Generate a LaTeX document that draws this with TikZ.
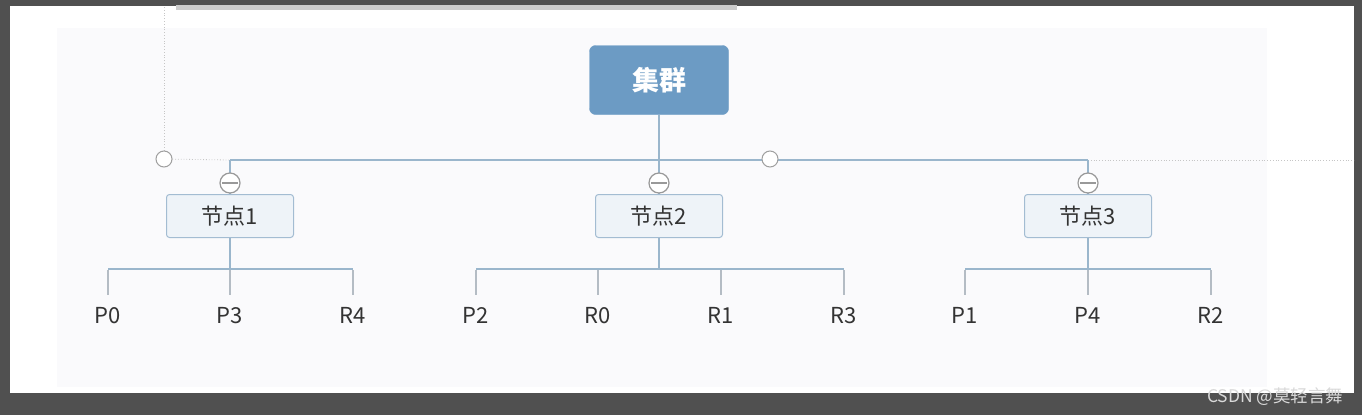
\documentclass[tikz,border=0pt]{standalone}
\usepackage{fontspec}
\setmainfont{Noto Sans CJK SC}
\usetikzlibrary{positioning}

\definecolor{framegray}{HTML}{505050}
\definecolor{panelbg}{HTML}{FAFAFC}
\definecolor{rootblue}{HTML}{6C9BC4}
\definecolor{boxfill}{HTML}{EEF3F8}
\definecolor{boxline}{HTML}{A3BCD2}
\definecolor{linkblue}{HTML}{9AB6CC}
\definecolor{dropgray}{HTML}{B4BCC4}
\definecolor{inkgray}{HTML}{333333}

\begin{document}
\begin{tikzpicture}[x=1pt, y=-1pt,
    root/.style={draw=rootblue, fill=rootblue, rounded corners=6pt, minimum width=139pt, minimum height=69pt, text=white, font=\fontsize{27}{30}\selectfont\bfseries},
    member/.style={draw=boxline, fill=boxfill, rounded corners=3pt, line width=1pt, minimum width=127pt, minimum height=43pt, text=inkgray, font=\fontsize{22}{24}\selectfont},
    leaf/.style={anchor=base, text=inkgray, font=\fontsize{22}{24}\selectfont},
    link/.style={draw=linkblue, line width=1.3pt},
    drop/.style={draw=dropgray, line width=1.3pt},
    guide/.style={draw=gray!45, dotted, line width=0.8pt},
    fold/.style={circle, draw=gray!80, fill=white, line width=1.2pt, minimum size=20pt, inner sep=0pt,
        path picture={\draw[gray!80, line width=1.2pt] ([xshift=2pt]path picture bounding box.west) -- ([xshift=-2pt]path picture bounding box.east);}},
    handle/.style={circle, draw=gray!75, fill=white, line width=1pt, minimum size=16pt, inner sep=0pt}
]
\useasboundingbox (0,0) rectangle (1362,415);

% screenshot frame and canvas
\fill[framegray] (0,0) rectangle (1362,415);
\fill[white] (10,6) rectangle (1354,393);
\fill[gray!40] (176,5) rectangle (737,10);
\fill[panelbg] (57,28) rectangle (1267,387);

% root and members
\node[root] (root) at (659,80) {集群};
\node[member] (n1) at (230,216) {节点1};
\node[member] (n2) at (659,216) {节点2};
\node[member] (n3) at (1088,216) {节点3};

% partitions and replicas
\foreach \name/\x/\lab in {p0/108/P0, p3/230/P3, r4/353/R4,
                           p2/476/P2, r0/598/R0, r1/721/R1, r3/844/R3,
                           p1/965/P1, p4/1088/P4, r2/1211/R2}
    \node[leaf] (\name) at (\x,323) {\lab};

% guides
\coordinate (h1) at (164,159);
\coordinate (h2) at (770,159);
\draw[guide] (h1) -- (164,6);
\draw[guide] (h1) -- (n1 |- 0,160);
\draw[guide] (n3 |- 0,160) -- (1354,160);

% main bus
\draw[link] (root.south) -- (root.south |- 0,160);
\draw[link] (n1 |- 0,160) -- (n3 |- 0,160);
\foreach \m in {n1,n2,n3}
    \draw[link] (\m |- 0,160) -- (\m.north);

% member branches
\draw[link] (n1.south) -- (n1.south |- 0,269);
\draw[link] (p0 |- 0,269) -- (r4 |- 0,269);
\draw[link] (n2.south) -- (n2.south |- 0,269);
\draw[link] (p2 |- 0,269) -- (r3 |- 0,269);
\draw[link] (n3.south) -- (n3.south |- 0,269);
\draw[link] (p1 |- 0,269) -- (r2 |- 0,269);
\foreach \name in {p0,p3,r4,p2,r0,r1,r3,p1,p4,r2}
    \draw[drop] (\name |- 0,270) -- (\name |- 0,295);

% fold buttons and handles
\foreach \m/\f in {n1/f1, n2/f2, n3/f3}
    \node[fold] (\f) at (\m |- 0,183) {};
\node[handle] (k1) at (h1) {};
\node[handle] (k2) at (h2) {};

% watermark
\node[anchor=east, text=white!85!black, font=\fontsize{17.5}{19}\selectfont] (mark) at (1347,397) {CSDN @莫轻言舞};
\end{tikzpicture}
\end{document}
